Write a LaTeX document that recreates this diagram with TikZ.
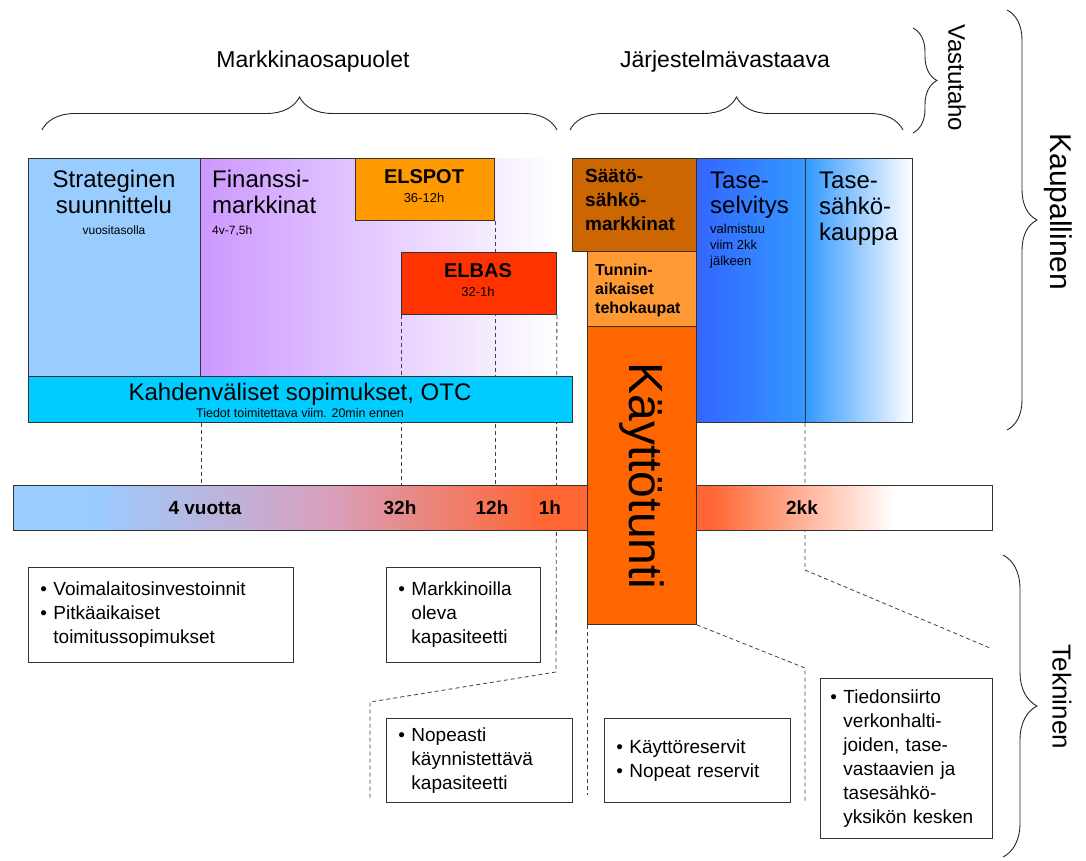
\documentclass[tikz,border=0pt]{standalone}
\usepackage{fontspec}
\setmainfont{Liberation Sans}
\usepackage{tikz}
\usetikzlibrary{positioning}
\usetikzlibrary{backgrounds}
\usetikzlibrary{decorations.pathreplacing}

\definecolor{stratc}{HTML}{99CCFF}
\definecolor{finc}{HTML}{CC99FF}
\definecolor{spotc}{HTML}{FF9900}
\definecolor{basc}{HTML}{FF3300}
\definecolor{otcc}{HTML}{00CCFF}
\definecolor{saatoc}{HTML}{CC6600}
\definecolor{tunninc}{HTML}{FF9933}
\definecolor{kayttoc}{HTML}{FF6600}
\definecolor{tasea}{HTML}{3366FF}
\definecolor{taseb}{HTML}{3399FF}
\definecolor{janaa}{HTML}{99CCFF}
\definecolor{janab}{HTML}{D9A0BE}
\definecolor{janac}{HTML}{FF6633}

\pgfdeclarehorizontalshading{aikajana}{100bp}{color(0bp)=(janaa); color(29bp)=(janaa); color(41bp)=(janab); color(52bp)=(janac); color(60.6bp)=(janac); color(70bp)=(white); color(100bp)=(white)}

\tikzset{
    reuna/.style = {draw=black!80, line width=0.9pt},
    lohko/.style = {reuna, inner sep=0pt, anchor=north west},
    kehys/.style = {lohko, fill=white, align=left, inner xsep=12pt, font=\fontsize{19}{24}\selectfont},
    viiva/.style = {draw=black!75, line width=0.8pt, dash pattern=on 4pt off 3pt},
    sulkeet/.style = {decorate, decoration={brace, amplitude=#1}, draw=black!85, line width=0.9pt},
    otsikko/.style = {inner sep=0pt, font=\fontsize{23}{26}\selectfont},
    isot/.style = {inner sep=0pt, align=left, anchor=north west, font=\fontsize{24}{26}\selectfont},
    pienet/.style = {inner sep=0pt, align=left, anchor=north west, font=\fontsize{12}{15}\selectfont},
    lihava/.style = {inner sep=0pt, anchor=base, font=\bfseries\fontsize{20}{24}\selectfont},
    aikamerkki/.style = {inner sep=0pt, anchor=base, font=\bfseries\fontsize{19}{22}\selectfont},
}
\newcommand{\luetelma}{\textbullet\ }
\newcommand{\sisennys}{\hphantom{\textbullet\ }}

\begin{document}
\begin{tikzpicture}[x=1pt, y=-1pt]
\useasboundingbox (0,0) rectangle (1086,861);
%
% kaupalliset laatikot
\node[lohko, fill=stratc, minimum width=172pt, minimum height=218pt] at (28,158) (strat) {};
\node[lohko, fill=spotc, minimum width=139pt, minimum height=62pt] at (355,158) (elspot) {};
\node[lohko, fill=basc, minimum width=155pt, minimum height=62pt] at (401,252) (elbas) {};
\node[lohko, fill=otcc, minimum width=544pt, minimum height=46pt] at (28,376) (otc) {};
\node[lohko, fill=saatoc, minimum width=124pt, minimum height=93pt] at (572,158) (saato) {};
\node[lohko, fill=tunninc, minimum width=109pt, minimum height=75pt] at (587,251) (tunnin) {};
\node[lohko, left color=tasea, right color=taseb, minimum width=109pt, minimum height=264pt] at (696,158) (taseselv) {};
\node[lohko, left color=taseb, middle color=taseb!35, right color=white, minimum width=107pt, minimum height=264pt] at (805,158) (tasesahko) {};
%
% aikajana ja kayttotunti
\node[lohko, shade, shading=aikajana, minimum width=979pt, minimum height=45pt] at (13,485) (aika) {};
\node[lohko, fill=kayttoc, minimum width=109pt, minimum height=298pt] at (587,326) (kaytto) {};
%
% tekstit
\node[isot, align=center, anchor=north] at (114,170) (strat-t) {Strateginen\\suunnittelu};
\node[pienet, anchor=north] at (114,226) (strat-s) {vuositasolla};
\node[isot] at (212,170) (finanssi-t) {Finanssi-\\markkinat};
\node[pienet] at (212,226) (finanssi-s) {4v-7,5h};
\node[lihava] at (424,184) (elspot-t) {ELSPOT};
\node[pienet, anchor=base, font=\fontsize{13}{15}\selectfont] at (424,203) (elspot-s) {36-12h};
\node[lihava] at (478,277) (elbas-t) {ELBAS};
\node[pienet, anchor=base, font=\fontsize{13}{15}\selectfont] at (478,296) (elbas-s) {32-1h};
\node[inner sep=0pt, anchor=base, font=\fontsize{24}{26}\selectfont] at (300,400) (otc-t) {Kahdenväliset sopimukset, OTC};
\node[pienet, anchor=base, font=\fontsize{12.5}{15}\selectfont] at (300,417) (otc-s) {Tiedot toimitettava viim. 20min ennen};
\node[isot, font=\bfseries\fontsize{19}{24}\selectfont] at (585,169) (saato-t) {Säätö-\\sähkö-\\markkinat};
\node[isot, font=\bfseries\fontsize{16}{19}\selectfont] at (595,264) (tunnin-t) {Tunnin-\\aikaiset\\tehokaupat};
\node[inner sep=0pt, rotate=-90, font=\fontsize{48}{50}\selectfont] at (642,476) (kaytto-t) {Käyttötunti};
\node[isot, font=\fontsize{24}{25}\selectfont] at (710,172) (taseselv-t) {Tase-\\selvitys};
\node[pienet, font=\fontsize{13}{16}\selectfont] at (710,224) (taseselv-s) {valmistuu\\viim 2kk\\jälkeen};
\node[isot] at (819,172) (tasesahko-t) {Tase-\\sähkö-\\kauppa};
%
\node[aikamerkki] at (205,514) (m-vuotta) {4 vuotta};
\node[aikamerkki] at (400,514) (m-32) {32h};
\node[aikamerkki] at (492,514) (m-12) {12h};
\node[aikamerkki] at (550,514) (m-1) {1h};
\node[aikamerkki] at (802,514) (m-2kk) {2kk};
%
% tekniset laatikot
\node[kehys, minimum width=265pt, text width=241pt, minimum height=95pt] at (28,567) (voima) {\luetelma Voimalaitosinvestoinnit\\\luetelma Pitkäaikaiset\\\sisennys toimitussopimukset};
\node[kehys, minimum width=154pt, text width=130pt, minimum height=95pt] at (386,567) (markk) {\luetelma Markkinoilla\\\sisennys oleva\\\sisennys kapasiteetti};
\node[kehys, minimum width=186pt, text width=162pt, minimum height=84pt] at (386,718) (nopea) {\luetelma Nopeasti\\\sisennys käynnistettävä\\\sisennys kapasiteetti};
\node[kehys, minimum width=186pt, text width=162pt, minimum height=84pt] at (604,718) (reservi) {\luetelma Käyttöreservit\\\luetelma Nopeat reservit};
\node[kehys, inner xsep=10pt, minimum width=172pt, text width=152pt, minimum height=160pt] at (820,678) (tiedon) {\luetelma Tiedonsiirto\\\sisennys verkonhalti-\\\sisennys joiden, tase-\\\sisennys vastaavien ja\\\sisennys tasesähkö-\\\sisennys yksikön kesken};
%
% katkoviivat (finanssi-laatikon paalle)
\coordinate (k1) at (556,672);
\coordinate (k2) at (370,702);
\coordinate (k3) at (370,800);
\coordinate (k4) at (587,795);
\coordinate (k5) at (805,668);
\coordinate (k6) at (805,802);
\coordinate (k7) at (805,570);
\coordinate (k8) at (990,648);
\begin{scope}[on background layer]
\node[lohko, draw=none, left color=finc, middle color=white, right color=white, minimum width=356pt, minimum height=218pt] at (200,158) (finanssi) {};
\draw[viiva] (strat.south east |- otc.south) -- (strat.south east |- aika.north);
\draw[viiva] (elbas.south west) -- (elbas.south west |- aika.north);
\draw[viiva] (elspot.south east) -- (elspot.south east |- aika.north);
\draw[viiva] (elbas.south east) -- (k1) -- (k2) -- (k3);
\draw[viiva] (kaytto.south west) -- (k4);
\draw[viiva] (kaytto.south east) -- (k5) -- (k6);
\draw[viiva] (tasesahko.south west) -- (k7) -- (k8);
\end{scope}
\draw[reuna] (finanssi.north west) -- (elspot.north west);
%
% aaltosulkeet
\draw[sulkeet=33] (42,130) -- (557,130);
\draw[sulkeet=33] (570,130) -- (903,130);
\draw[sulkeet=24] (913,28) -- (913,133);
\draw[sulkeet=30] (1007,10) -- (1007,430);
\draw[sulkeet=34] (1003,555) -- (1003,857);
\node[otsikko] at (313,62) (markkina) {Markkinaosapuolet};
\node[otsikko] at (725,62) (jarjestelma) {Järjestelmävastaava};
\node[otsikko, rotate=-90, font=\fontsize{24}{26}\selectfont] at (957,78) (vastutaho) {Vastutaho};
\node[otsikko, rotate=-90, font=\fontsize{30}{32}\selectfont] at (1058,212) (kaupallinen) {Kaupallinen};
\node[otsikko, rotate=-90, font=\fontsize{26}{28}\selectfont] at (1062,697) (tekninen) {Tekninen};

\end{tikzpicture}
\end{document}
